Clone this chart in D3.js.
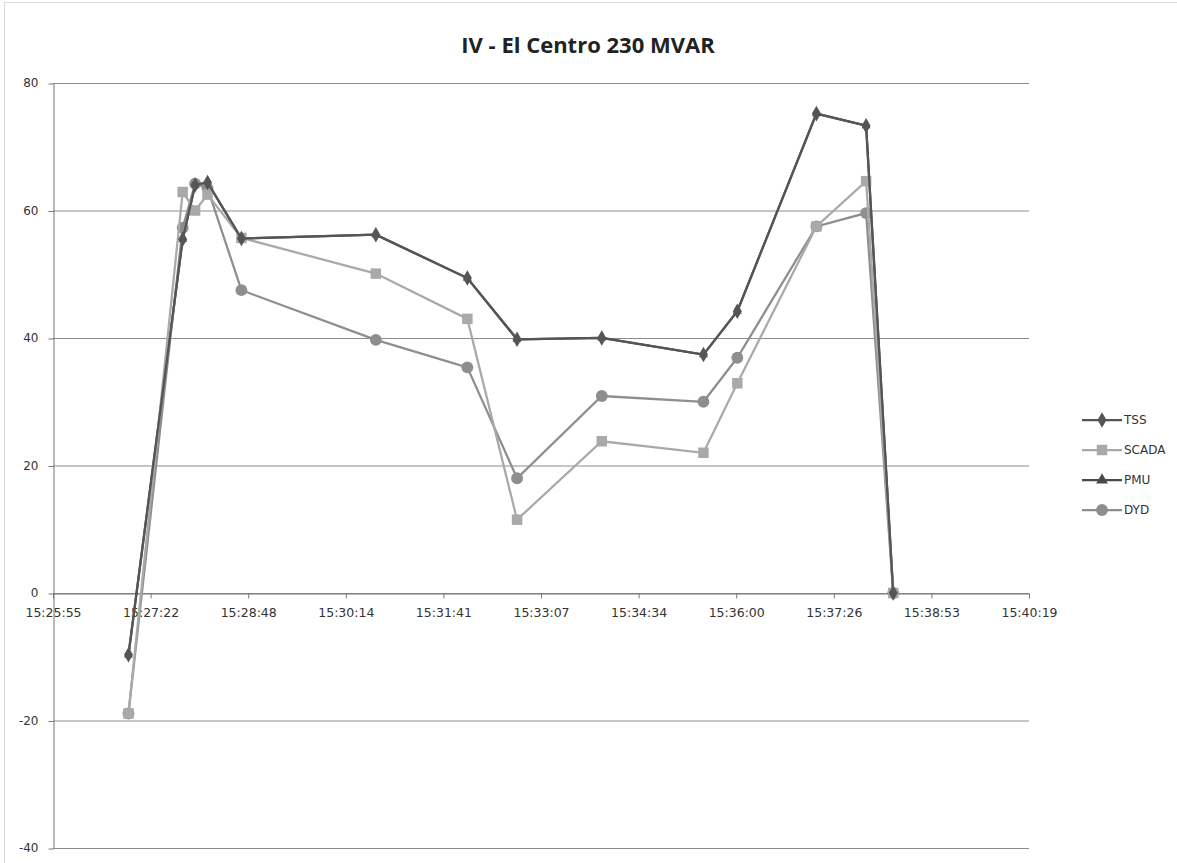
<!DOCTYPE html>
<html>
<head>
<meta charset="utf-8">
<script src="https://cdn.jsdelivr.net/npm/d3@7"></script>
<style>
  body { margin: 0; background: #fff; }
  svg { display: block; }
</style>
</head>
<body>
<div id="chart"></div>
<script>
const width = 1177;
const height = 863;

// sample times (hh:mm:ss)
const times = ["15:27:02", "15:27:50", "15:28:01", "15:28:12", "15:28:42", "15:30:41", "15:32:02",
  "15:32:46", "15:34:01", "15:35:31", "15:36:01", "15:37:11", "15:37:55", "15:38:19"];

const tss   = [-9.7, 55.5, 64.0, 64.4, 55.6, 56.2, 49.4, 39.8, 40.0, 37.4, 44.2, 75.2, 73.3, 0];
const scada = [-18.9, 62.9, 60.0, 62.5, 55.7, 50.1, 43.0, 11.5, 23.8, 22.0, 32.9, 57.5, 64.6, 0];
const pmu   = [-9.7, 55.5, 64.0, 64.4, 55.6, 56.2, 49.4, 39.8, 40.0, 37.4, 44.2, 75.2, 73.3, 0];
const dyd   = [-18.9, 57.3, 64.2, 63.5, 47.5, 39.7, 35.4, 18.0, 30.9, 30.0, 36.9, 57.5, 59.6, 0];

const xTickLabels = ["15:25:55", "15:27:22", "15:28:48", "15:30:14", "15:31:41", "15:33:07",
  "15:34:34", "15:36:00", "15:37:26", "15:38:53", "15:40:19"];
const yTicks = [80, 60, 40, 20, 0, -20, -40];

const toSec = (s) => {
  const [h, m, sec] = s.split(":").map(Number);
  return h * 3600 + m * 60 + sec;
};

// excel date axis: 0.643 .. 0.653 days, major unit 0.001 day
const xMin = 0.643 * 86400;
const xMax = 0.653 * 86400;
const xTickVals = d3.range(11).map((i) => (0.643 + i * 0.001) * 86400);

const margin = { left: 53, right: 148, top: 83, bottom: 15 };
const x = d3.scaleLinear().domain([xMin, xMax]).range([margin.left, width - margin.right]);
const y = d3.scaleLinear().domain([-40, 80]).range([height - margin.bottom, margin.top]);

const series = [
  { name: "TSS", values: tss, color: "#555555", shape: d3.symbolDiamond, size: 70 },
  { name: "SCADA", values: scada, color: "#a9a9a9", shape: d3.symbolSquare, size: 110 },
  { name: "PMU", values: pmu, color: "#4a4a4a", shape: d3.symbolTriangle, size: 60 },
  { name: "DYD", values: dyd, color: "#8e8e8e", shape: d3.symbolCircle, size: 110 },
];

const svg = d3.select("#chart").append("svg")
  .attr("width", width)
  .attr("height", height)
  .style("font-family", "DejaVu Sans, sans-serif");

svg.append("rect")
  .attr("x", 4.5).attr("y", 2.5)
  .attr("width", width + 10).attr("height", height + 10)
  .attr("fill", "none")
  .attr("stroke", "#b5b5b5")
  .attr("stroke-dasharray", "1,1");

svg.append("text")
  .attr("x", 588).attr("y", 53)
  .attr("text-anchor", "middle")
  .attr("font-family", "Open Sans, sans-serif")
  .attr("font-weight", 700)
  .attr("font-size", 22)
  .attr("fill", "#222")
  .text("IV - El Centro 230 MVAR");

// gridlines
svg.append("g")
  .selectAll("line")
  .data(yTicks)
  .join("line")
  .attr("x1", margin.left).attr("x2", width - margin.right)
  .attr("y1", (d) => y(d) + 0.5).attr("y2", (d) => y(d) + 0.5)
  .attr("stroke", "#8c8c8c")
  .attr("stroke-width", 1);

// y axis
const yAxis = svg.append("g")
  .attr("transform", `translate(${margin.left + 0.5},0)`)
  .call(d3.axisLeft(y).tickValues(yTicks).tickSize(5).tickSizeOuter(0)
    .tickFormat((d) => String(d)));
yAxis.select(".domain").attr("stroke", "#777");
yAxis.selectAll(".tick line").attr("stroke", "#777").attr("transform", "translate(0,0.5)");
yAxis.selectAll("text").attr("font-size", 12).attr("fill", "#333").attr("x", -15)
  .attr("font-family", "DejaVu Sans, sans-serif");

// x axis at zero
const xAxis = svg.append("g")
  .attr("transform", `translate(0,${y(0) + 0.5})`)
  .call(d3.axisBottom(x).tickValues(xTickVals).tickSize(5).tickSizeOuter(0)
    .tickFormat((d, i) => xTickLabels[i]));
xAxis.select(".domain").attr("stroke", "#777");
xAxis.selectAll(".tick line").attr("stroke", "#777");
xAxis.selectAll("text").attr("font-size", 12.5).attr("fill", "#333").attr("y", 15)
  .attr("font-family", "DejaVu Sans, sans-serif");

const line = d3.line()
  .x((d) => x(toSec(d.t)))
  .y((d) => y(d.v));

// PMU sits under everything, TSS on top
const drawOrder = [series[2], series[3], series[1], series[0]];

drawOrder.forEach((s) => {
  const pts = times.map((t, i) => ({ t, v: s.values[i] }));
  const g = svg.append("g");
  g.append("path")
    .datum(pts)
    .attr("d", line)
    .attr("fill", "none")
    .attr("stroke", s.color)
    .attr("stroke-width", 2.25);
  g.selectAll("path.m")
    .data(pts)
    .join("path")
    .attr("class", "m")
    .attr("transform", (d) => `translate(${x(toSec(d.t))},${y(d.v)})`)
    .attr("d", d3.symbol().type(s.shape).size(s.name === "PMU" ? 35 : s.size))
    .attr("fill", s.color);
});

// legend
const legend = svg.append("g");
series.forEach((s, i) => {
  const ly = 420 + i * 30;
  const g = legend.append("g").attr("transform", `translate(0,${ly})`);
  g.append("line")
    .attr("x1", 1082).attr("x2", 1122)
    .attr("stroke", s.color).attr("stroke-width", 2.25);
  g.append("path")
    .attr("transform", "translate(1102,0)")
    .attr("d", d3.symbol().type(s.shape).size(s.size))
    .attr("fill", s.color);
  g.append("text")
    .attr("x", 1124).attr("y", 4)
    .attr("font-size", 12)
    .attr("fill", "#333")
    .text(s.name);
});
</script>
</body>
</html>
